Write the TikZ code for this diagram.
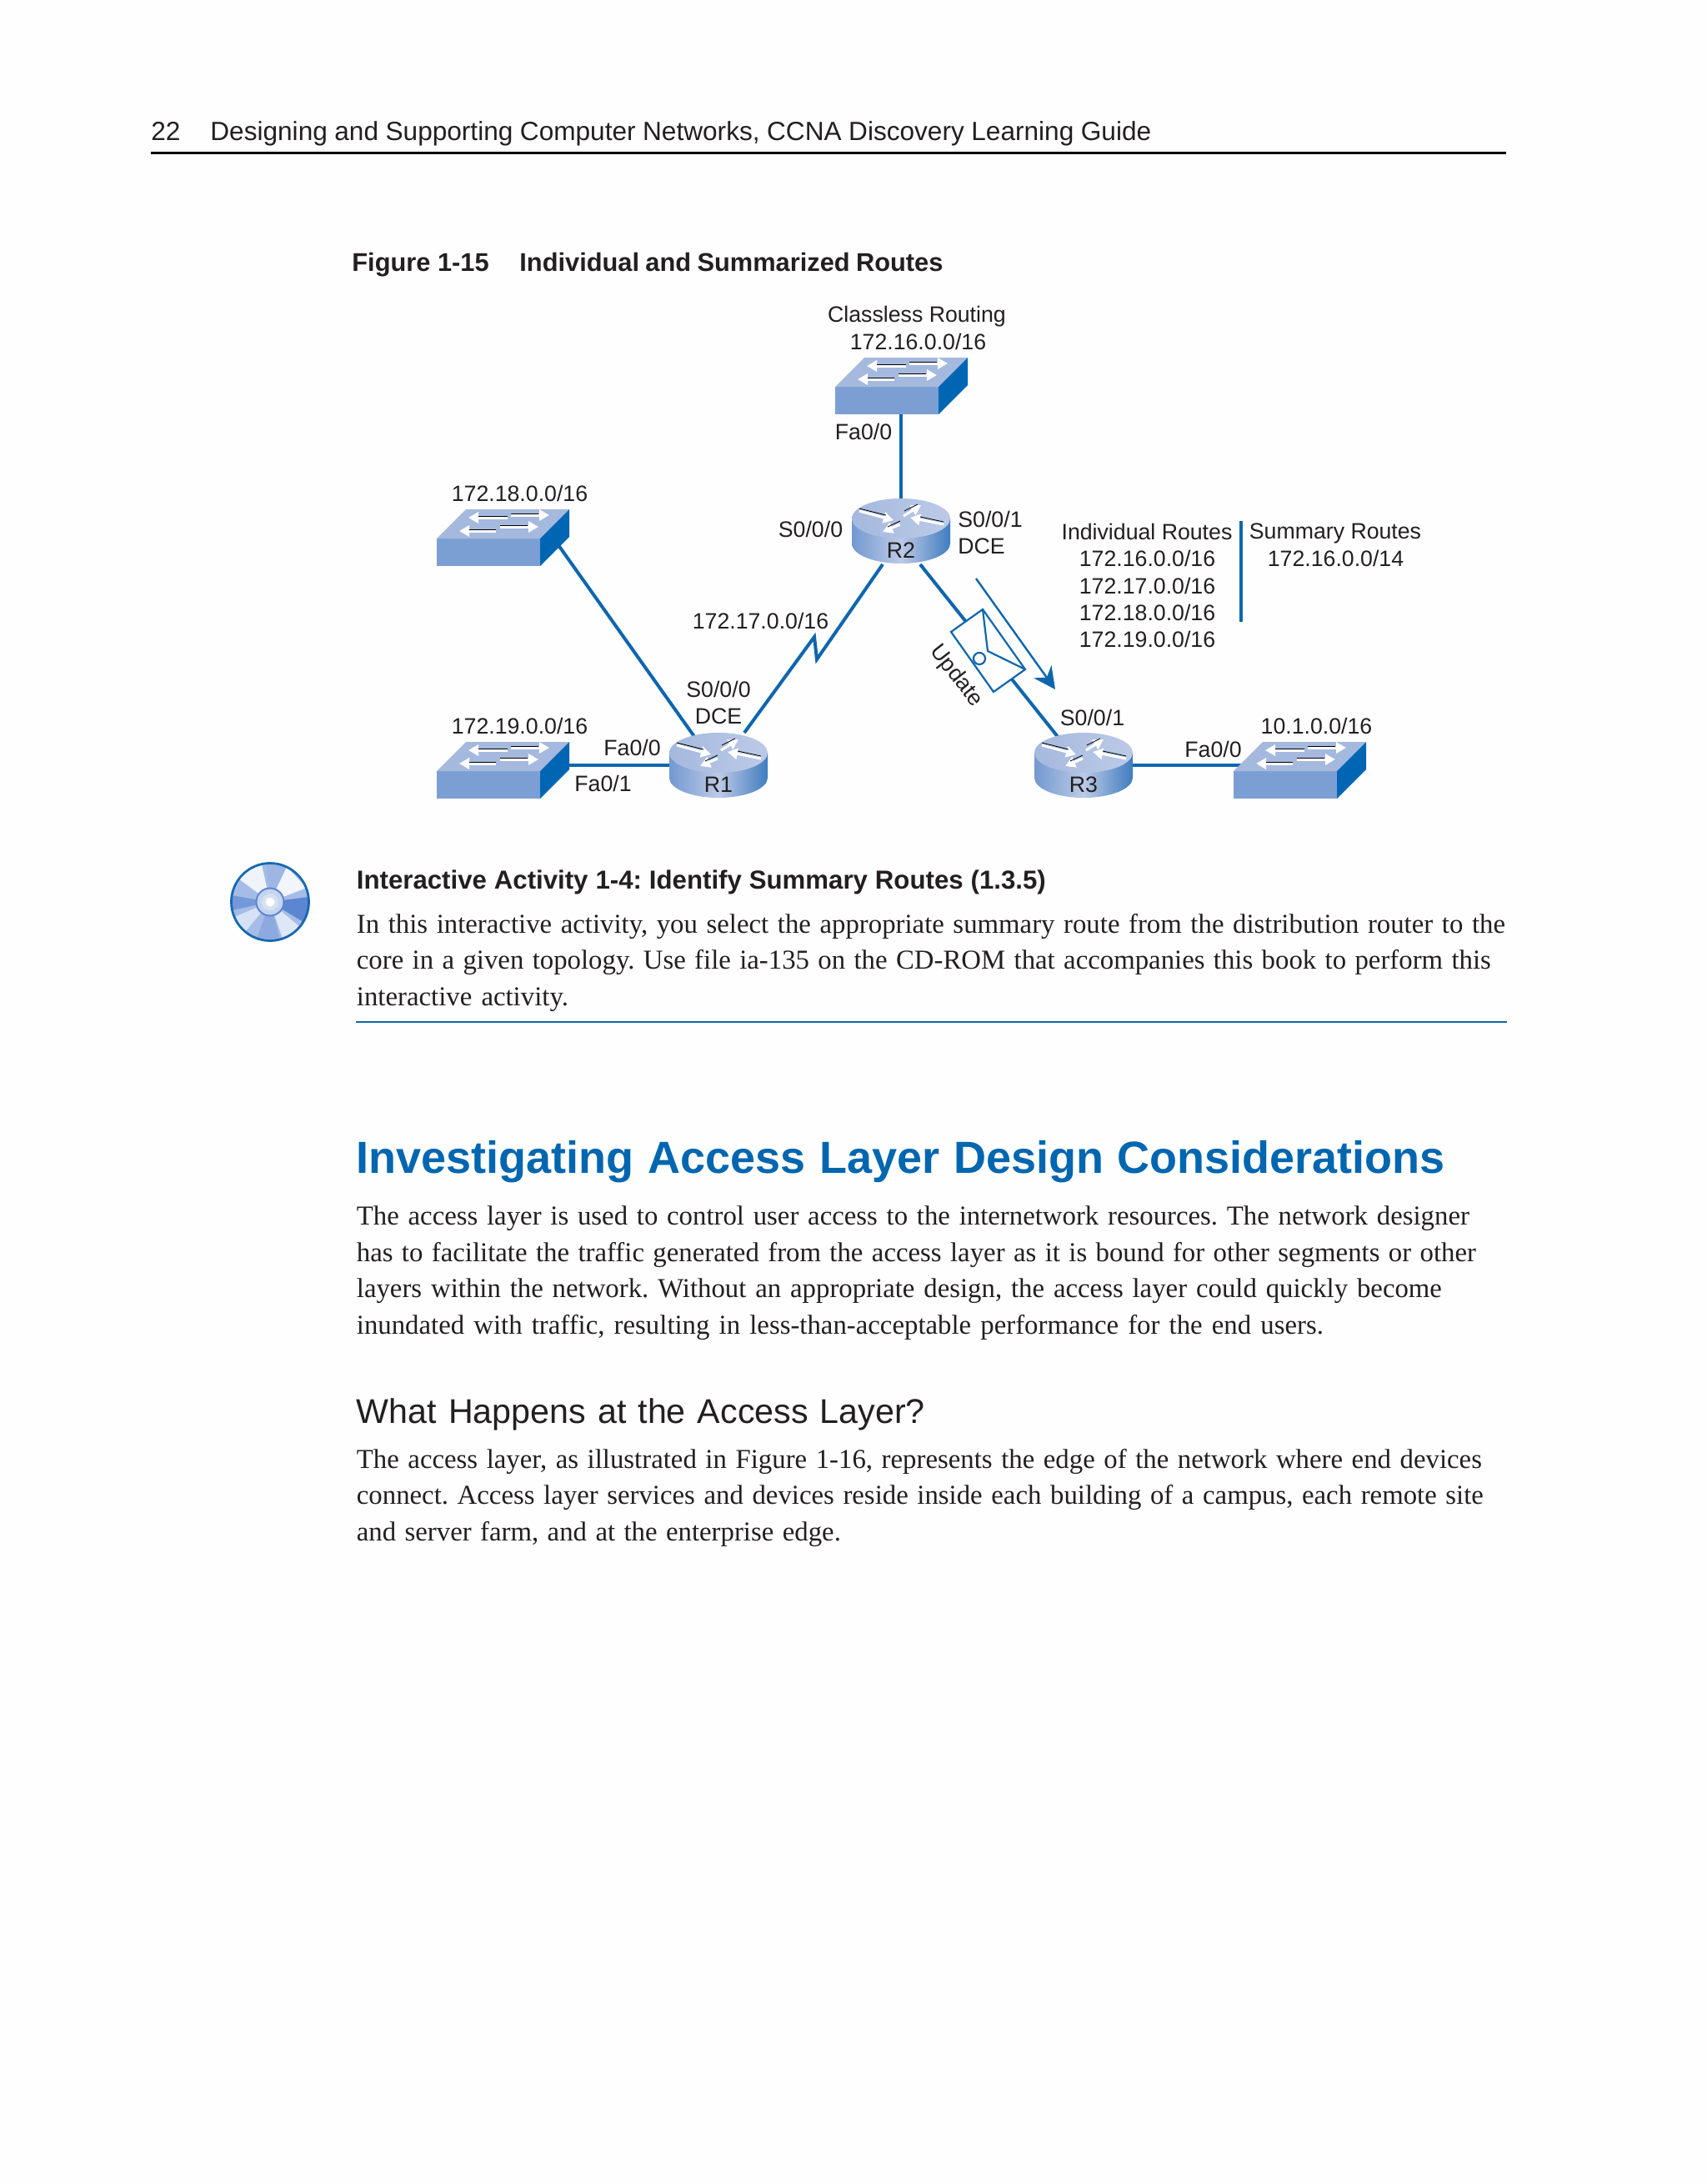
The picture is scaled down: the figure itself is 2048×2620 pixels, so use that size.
\documentclass[tikz,border=0pt]{standalone}
\usepackage{fontspec}
\setmainfont{Liberation Serif}
\setsansfont{Liberation Sans}
\usetikzlibrary{arrows.meta}
\definecolor{net}{HTML}{0F66AE}
\definecolor{ink}{HTML}{231F20}
\definecolor{headblue}{HTML}{0066B0}
\definecolor{swfront}{HTML}{7C9FD3}
\definecolor{swtop}{HTML}{A5B9DE}
\definecolor{swside}{HTML}{0066B3}
\definecolor{rtl}{HTML}{7399D0}
\definecolor{rtm}{HTML}{BCCAE7}
\definecolor{rtr}{HTML}{3F7CBF}
\definecolor{cdb}{HTML}{5B86D2}
\definecolor{paper}{HTML}{FEFEFE}
\tikzset{
  link/.style={draw=net,line width=2pt},
  lab/.style={font=\sffamily\fontsize{13.35}{15}\selectfont,text=ink,inner sep=0pt,anchor=center},
  bodyline/.style={font=\rmfamily\fontsize{16.4}{18}\selectfont,text=ink,inner sep=0pt,anchor=base west},
  sansline/.style={font=\sffamily\fontsize{15.8}{18}\selectfont,text=ink,inner sep=0pt,anchor=base west},
  figline/.style={sansline,font=\sffamily\bfseries\fontsize{15.4}{17}\selectfont},
  whitearrow/.style={white,line width=1.5pt,-{Triangle[length=6pt,width=6.5pt]}},
  blackedge/.style={black,line width=.42pt},
  sw/.pic={
    \fill[swfront] (0,0) rectangle (124,33);
    \fill[swtop] (0,0) -- (35,-35) -- (159,-35) -- (124,0) -- cycle;
    \fill[swside] (124,0) -- (159,-35) -- (159,-2) -- (124,33) -- cycle;
    \draw[whitearrow] (85,-25) -- (38,-25);
    \draw[whitearrow] (89,-28) -- (135,-28);
    \draw[whitearrow] (71,-9) -- (27,-9);
    \draw[whitearrow] (76,-14) -- (122,-14);
    \draw[blackedge] (85,-27) -- (50,-27);
    \draw[blackedge] (89,-30) -- (122,-30);
    \draw[blackedge] (71,-11) -- (39,-11);
    \draw[blackedge] (76,-16) -- (109,-16);
  },
  rt/.pic={
    \shade[left color=rtl,right color=rtr,middle color=rtm]
      (-59,0) -- (-59,30) arc[start angle=180,end angle=0,x radius=59,y radius=24] -- (59,0) -- cycle;
    \shade[left color=swtop,right color=rtm] (0,0) ellipse[x radius=59,y radius=24];
    \draw[whitearrow] (-50,-9) -- (-9,2);
    \draw[blackedge] (-50,-12) -- (-18,-4);
    \draw[whitearrow] (3,-3) -- (24,-16);
    \draw[blackedge] (4,-9) -- (20,-17);
    \draw[whitearrow] (51,7) -- (11,-1);
    \draw[blackedge] (51,4) -- (23,-2);
    \draw[whitearrow] (-1,7) -- (-22,16);
    \draw[blackedge] (-1,3) -- (-16,10);
  }
}
\newcommand{\txtline}[6][bodyline]{\node[#1] (#2) at (#3,#4) {\makebox[#5pt][s]{#6}};}
\begin{document}
\frenchspacing
\begin{tikzpicture}[x=0.5pt,y=-0.5pt]
\useasboundingbox (0,0) rectangle (2048,2620);
\fill[paper] (0,0) rectangle (2048,2620);

% header
\node[sansline] (pagenum) at (181,168) {22};
\txtline[sansline]{runhead}{252}{168}{564.5}{Designing and Supporting Computer Networks, CCNA Discovery Learning Guide}
\coordinate (ruleL) at (181,183.5);
\coordinate (ruleR) at (1807,183.5);
\draw[black,line width=1.5pt] (ruleL) -- (ruleR);

\node[figline] (figno) at (422,325) {Figure 1-15};
\txtline[figline]{figtitle}{623}{325}{254}{Individual and Summarized Routes}

% connector end points
\coordinate (swTport) at (1081,490);
\coordinate (R2top) at (1081,605);
\coordinate (swAport) at (670,654);
\coordinate (R1a) at (832.6,883);
\coordinate (R2l) at (1059,677);
\coordinate (zigA) at (980,791);
\coordinate (zigB) at (977,764);
\coordinate (R1b) at (893,879);
\coordinate (R2r) at (1104,677);
\coordinate (R3a) at (1270,885);
\coordinate (swBport) at (675,918);
\coordinate (R1l) at (810,918);
\coordinate (R3r) at (1355,918);
\coordinate (swDport) at (1495,918);
\coordinate (arrS) at (1171,694);
\coordinate (arrE) at (1266,827);
\coordinate (sepT) at (1489,625);
\coordinate (sepB) at (1489,746);

% connectors
\draw[link] (swTport) -- (R2top);
\draw[link] (swAport) -- (R1a);
\draw[link,line join=miter] (R2l) -- (zigA) -- (zigB) -- (R1b);
\draw[link] (R2r) -- (R3a);
\draw[link] (swBport) -- (R1l);
\draw[link] (R3r) -- (swDport);
\draw[draw=net,line width=1.2pt,-{Stealth[length=13pt,width=13pt]}] (arrS) -- (arrE);
\draw[draw=net,line width=1.8pt] (sepT) -- (sepB);

% devices
\pic at (1002,464) {sw};
\pic at (524,646) {sw};
\pic at (524,925) {sw};
\pic at (1480,925) {sw};
\pic at (862,903) {rt};
\pic at (1081,622) {rt};
\pic at (1300,903) {rt};

% envelope
\draw[draw=net,fill=paper,line width=1.1pt,line join=miter]
  (1179,731) -- (1141,758) -- (1192,830) -- (1230,803) -- cycle;
\draw[draw=net,line width=1.1pt] (1179,731) -- (1185,781) -- (1230,803);
\draw[draw=net,line width=1.1pt] (1175,790) circle[radius=7];

% labels
\node[lab] (t1) at (1100,380) {Classless Routing};
\node[lab] (t2) at (1101.5,410) {172.16.0.0/16};
\node[lab] (t3) at (1036,518) {Fa0/0};
\node[lab] (t4) at (623.5,592) {172.18.0.0/16};
\node[lab] (t5) at (972.5,635) {S0/0/0};
\node[lab,anchor=west] (t6) at (1149,623) {S0/0/1};
\node[lab,anchor=west] (t7) at (1149,655) {DCE};
\node[lab] (t8) at (1081,660) {R2};
\node[lab] (t9) at (1376,638) {Individual Routes};
\node[lab] (t10) at (1376.5,670) {172.16.0.0/16};
\node[lab] (t11) at (1376.5,703) {172.17.0.0/16};
\node[lab] (t12) at (1376.5,735) {172.18.0.0/16};
\node[lab] (t13) at (1376.5,767) {172.19.0.0/16};
\node[lab] (t14) at (1602,640) {Summary Routes};
\node[lab] (t15) at (1602.5,670) {172.16.0.0/14};
\node[lab] (t16) at (912.5,745) {172.17.0.0/16};
\node[lab] (t17) at (862,827) {S0/0/0};
\node[lab] (t18) at (862,859) {DCE};
\node[lab] (t19) at (623.5,871) {172.19.0.0/16};
\node[lab] (t20) at (758.5,897) {Fa0/0};
\node[lab] (t21) at (723.5,940) {Fa0/1};
\node[lab] (t22) at (862,941) {R1};
\node[lab] (t23) at (1300,941) {R3};
\node[lab] (t24) at (1310.5,861) {S0/0/1};
\node[lab] (t25) at (1455.5,899) {Fa0/0};
\node[lab] (t26) at (1579.5,871) {10.1.0.0/16};
\node[lab,rotate=-52] (t27) at (1147,811) {Update};

% CD icon
\begin{scope}[shift={(324,1082)}]
  \fill[cdb!55!white] (0,0) circle[radius=47];
  \fill[white!90!cdb] (0,0) -- (-38,-28) -- (-22,-41) -- (-10,-45) -- cycle;
  \fill[cdb!85!white] (0,0) -- (-47,-8) -- (-46,10) -- cycle;
  \fill[cdb!60!white] (0,0) -- (-5,-46) -- (20,-42) -- cycle;
  \fill[white!92!cdb] (0,0) -- (20,-42) -- (44,-17) -- cycle;
  \fill[cdb] (0,0) -- (46,-6) -- (47,8) -- (40,24) -- cycle;
  \fill[cdb!70!white] (0,0) -- (12,45) -- (-16,44) -- cycle;
  \fill[cdb!25!white] (0,0) -- (-43,18) -- (-30,36) -- cycle;
  \fill[cdb!20!white] (0,0) -- (36,30) -- (15,44) -- cycle;
  \fill[cdb!35!white] (0,0) circle[radius=17];
  \draw[draw=cdb,line width=1pt] (0,0) circle[radius=16.5];
  \fill[cdb!25!white] (0,0) circle[radius=10];
  \fill[white] (0,0) circle[radius=5.5];
  \draw[draw=net!90!cdb,line width=1.4pt] (0,0) circle[radius=46.5];
\end{scope}

% interactive activity
\txtline[sansline,font=\sffamily\bfseries\fontsize{15.6}{18}\selectfont]{iahead}{427.5}{1066}{413.5}{Interactive Activity 1-4: Identify Summary Routes (1.3.5)}
\txtline{ia1}{427.5}{1119}{689}{In this interactive activity, you select the appropriate summary route from the distribution router to the}
\txtline{ia2}{427.5}{1162.5}{680.5}{core in a given topology. Use file ia-135 on the CD-ROM that accompanies this book to perform this}
\txtline{ia3}{427.5}{1206}{127}{interactive activity.}
\coordinate (iaL) at (427,1226);
\coordinate (iaR) at (1808,1226);
\draw[draw=net,line width=1pt] (iaL) -- (iaR);

% section
\txtline[sansline,font=\sffamily\bfseries\fontsize{27}{30}\selectfont,text=headblue]{sec}{427.5}{1407}{653}{Investigating Access Layer Design Considerations}
\txtline{p1a}{427.5}{1469.5}{667.5}{The access layer is used to control user access to the internetwork resources. The network designer}
\txtline{p1b}{427.5}{1513}{671.5}{has to facilitate the traffic generated from the access layer as it is bound for other segments or other}
\txtline{p1c}{427.5}{1556.5}{651}{layers within the network. Without an appropriate design, the access layer could quickly become}
\txtline{p1d}{427.5}{1600}{580}{inundated with traffic, resulting in less-than-acceptable performance for the end users.}
\txtline[sansline,font=\sffamily\fontsize{20.6}{22}\selectfont]{sub}{427.5}{1707}{341}{What Happens at the Access Layer?}
\txtline{p2a}{427.5}{1761}{675}{The access layer, as illustrated in Figure 1-16, represents the edge of the network where end devices}
\txtline{p2b}{427.5}{1804.5}{676}{connect. Access layer services and devices reside inside each building of a campus, each remote site}
\txtline{p2c}{427.5}{1848}{290.5}{and server farm, and at the enterprise edge.}
\end{tikzpicture}
\end{document}
